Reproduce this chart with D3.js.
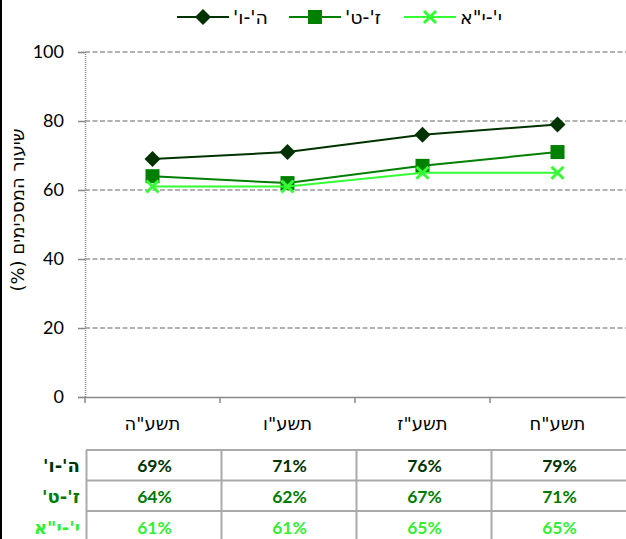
<!DOCTYPE html>
<html><head><meta charset="utf-8">
<script src="https://cdn.jsdelivr.net/npm/d3@7"></script>
<style>
body{margin:0;background:#fff;}
svg{display:block;font-family:Lato,'DejaVu Sans',sans-serif;}
.heb{font-family:'DejaVu Sans',sans-serif;}
</style></head>
<body><svg id="c" width="626" height="539"></svg>
<script>
const categories = ['תשע"ה','תשע"ו','תשע"ז','תשע"ח'];
const seriesNames = ["ה'-ו'","ז'-ט'",'י\'-י"א'];
const valuesA = [69,71,76,79];
const valuesB = [64,62,67,71];
const valuesC = [61,61,65,65];
const yTicks = [0,20,40,60,80,100];
const yLabel = 'שיעור המסכימים (%)';
const colors = ['#003300','#008000','#33ff33'];
const textColors = ['#003300','#007a00','#33ee33'];
const markers = ['diamond','square','cross'];
const series = [valuesA,valuesB,valuesC];

const svg = d3.select('#c');
const x = d3.scaleBand().domain(categories).range([85,625]);
const y = d3.scaleLinear().domain([0,100]).range([397,52]);

// left border
svg.append('rect').attr('x',0).attr('y',0).attr('width',2).attr('height',539).attr('fill','#000');

// grid
svg.append('g').selectAll('line').data(yTicks.filter(d=>d>0)).join('line')
  .attr('x1',85).attr('x2',626).attr('y1',d=>y(d)).attr('y2',d=>y(d))
  .attr('stroke','#999').attr('stroke-width',1.5).attr('stroke-dasharray','5,2.5');

// y axis
const ya = svg.append('g').attr('transform','translate(85,0)')
  .call(d3.axisLeft(y).tickValues(yTicks).tickSize(7).tickPadding(14));
ya.select('.domain').attr('stroke','#888').attr('stroke-width',1.5).attr('stroke-dasharray','1,1');
ya.selectAll('.tick line').attr('stroke','#888').attr('stroke-width',1.5);
ya.selectAll('.tick text').attr('font-size',18).attr('fill','#000').attr('font-family','Lato,sans-serif');

// x axis
const xa = svg.append('g').attr('transform','translate(0,397)')
  .call(d3.axisBottom(x).tickSize(0).tickPadding(31));
xa.select('.domain').attr('stroke','#888').attr('stroke-width',1.5);
xa.selectAll('.tick text').attr('class','heb').attr('font-size',18).attr('fill','#000').attr('direction','rtl').attr('dy','0.1em');
svg.append('g').selectAll('line').data(categories).join('line')
  .attr('x1',d=>x(d)).attr('x2',d=>x(d)).attr('y1',397).attr('y2',403)
  .attr('stroke','#888').attr('stroke-width',1.5);

// y label
svg.append('text').attr('class','heb').attr('transform','translate(24,210) rotate(-90)')
  .attr('text-anchor','middle').attr('direction','rtl').attr('font-size',18).attr('fill','#000').text(yLabel);

function drawMarker(g, type, cx, cy, color){
  if(type==='diamond'){
    g.append('path').attr('d',`M${cx},${cy-8}L${cx+8},${cy}L${cx},${cy+8}L${cx-8},${cy}Z`).attr('fill',color);
  } else if(type==='square'){
    g.append('rect').attr('x',cx-7).attr('y',cy-7).attr('width',14).attr('height',14).attr('fill',color);
  } else {
    g.append('path').attr('d',`M${cx-6},${cy-6}L${cx+6},${cy+6}M${cx-6},${cy+6}L${cx+6},${cy-6}`)
      .attr('stroke',color).attr('stroke-width',3).attr('fill','none');
  }
}

const line = d3.line().x((d,i)=>x(categories[i])+x.bandwidth()/2).y(d=>y(d));
series.forEach((vals,s)=>{
  const g = svg.append('g');
  g.append('path').attr('d',line(vals)).attr('fill','none').attr('stroke',colors[s]).attr('stroke-width',2);
  vals.forEach((v,i)=>drawMarker(g,markers[s],x(categories[i])+x.bandwidth()/2,y(v),colors[s]));
});

// legend
const legX = [177,289,404];
seriesNames.forEach((n,s)=>{
  const g = svg.append('g');
  const lx = legX[s];
  g.append('line').attr('x1',lx).attr('x2',lx+52).attr('y1',17).attr('y2',17).attr('stroke',colors[s]).attr('stroke-width',2);
  drawMarker(g,markers[s],lx+26,17,colors[s]);
  g.append('text').attr('class','heb').attr('x',lx+56).attr('y',24).attr('text-anchor','end').attr('direction','rtl')
    .attr('font-size',19).attr('fill','#000').text(n);
});

// table
const tableTop = 450, rowH = 30;
const tg = svg.append('g');
categories.forEach((c,i)=>{
  tg.append('line').attr('x1',x(c)+1.5).attr('x2',x(c)+1.5).attr('y1',tableTop).attr('y2',539).attr('stroke','#aaa').attr('stroke-width',2);
});
[0,1,2].forEach(r=>{
  tg.append('line').attr('x1',86).attr('x2',626).attr('y1',tableTop+r*rowH+(r>0?r*0.5:0)).attr('y2',tableTop+r*rowH+(r>0?r*0.5:0)).attr('stroke','#aaa').attr('stroke-width',2);
});
series.forEach((vals,s)=>{
  const cy = tableTop + s*rowH + 22 + s*0.8;
  tg.append('text').attr('class','heb').attr('x',80).attr('y',cy).attr('text-anchor','start').attr('direction','rtl')
    .attr('font-size',18).attr('font-weight','bold').attr('fill',textColors[s]).text(seriesNames[s]);
  vals.forEach((v,i)=>{
    tg.append('text').attr('x',x(categories[i])+x.bandwidth()/2+2).attr('y',cy)
      .attr('text-anchor','middle').attr('font-size',17.5).attr('font-weight','bold')
      .attr('fill',textColors[s]).text(v+'%');
  });
});
</script></body></html>
